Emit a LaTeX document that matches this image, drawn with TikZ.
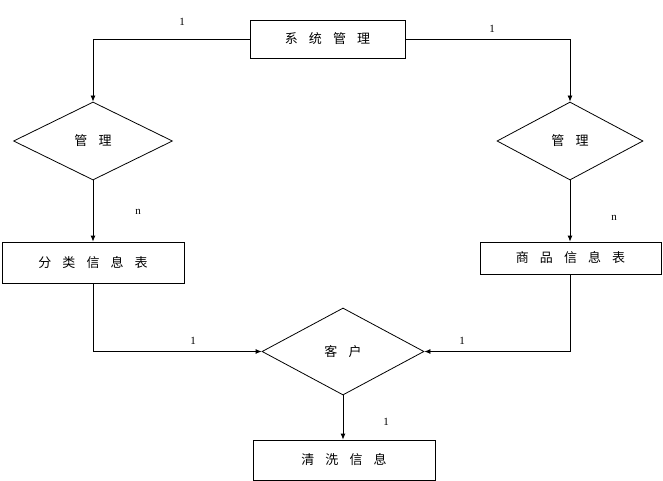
\documentclass[tikz,border=0pt]{standalone}
\usepackage{fontspec}
\setmainfont{Liberation Serif}
\newfontfamily\cjk{Noto Sans CJK SC}
\usetikzlibrary{shapes.geometric,arrows.meta}
\newcommand{\cgap}{\hspace{0.85em}}
\begin{document}
\begin{tikzpicture}[x=1pt,y=-1pt,
  ent/.style={draw,line width=0.8pt,minimum width=#1,font=\cjk\fontsize{13}{13}\selectfont,inner sep=0pt},
  rel/.style={draw,line width=0.8pt,diamond,aspect=1,font=\cjk\fontsize{13}{13}\selectfont,inner sep=0pt},
  conn/.style={line width=0.8pt},
  arr/.style={line width=0.8pt,-{Latex[length=6pt,width=5pt]}},
  lab/.style={font=\fontsize{11}{11}\selectfont,inner sep=0pt}]
\useasboundingbox (0,0) rectangle (663,481);
\fill[white] (0,0) rectangle (663,481);
% entities
\node[ent=155pt,minimum height=38pt] (sys) at (327.5,39) {系\cgap 统\cgap 管\cgap 理};
\node[ent=182pt,minimum height=41pt] (fl) at (93,262.5) {分\cgap 类\cgap 信\cgap 息\cgap 表};
\node[ent=181pt,minimum height=32pt] (sp) at (570.5,258) {商\cgap 品\cgap 信\cgap 息\cgap 表};
\node[ent=182pt,minimum height=40pt] (qx) at (344,460) {清\cgap 洗\cgap 信\cgap 息};
% relations
\node[rel,minimum width=159pt,minimum height=78pt] (g1) at (93,141) {管\cgap 理};
\node[rel,minimum width=146pt,minimum height=78pt] (g2) at (570,141) {管\cgap 理};
\node[rel,minimum width=162pt,minimum height=87pt] (kh) at (343,351.5) {客\cgap 户};
% connectors
\draw[arr] (sys.west) -| (g1.north);
\draw[arr] (sys.east) -| (g2.north);
\draw[arr] (g1.south) -- (fl.north);
\draw[arr] (g2.south) -- (g2.south |- sp.north);
\draw[arr] (fl.south) |- (kh.west);
\draw[arr] (g2.south |- sp.south) |- (kh.east);
\draw[arr] (kh.south) -- (kh.south |- qx.north);
% labels
\node[lab] (l1) at (182,22) {1};
\node[lab] (l2) at (492,29) {1};
\node[lab] (l3) at (138,212) {n};
\node[lab] (l4) at (614,218) {n};
\node[lab] (l5) at (193,341) {1};
\node[lab] (l6) at (462,341) {1};
\node[lab] (l7) at (386,422) {1};
\end{tikzpicture}
\end{document}
